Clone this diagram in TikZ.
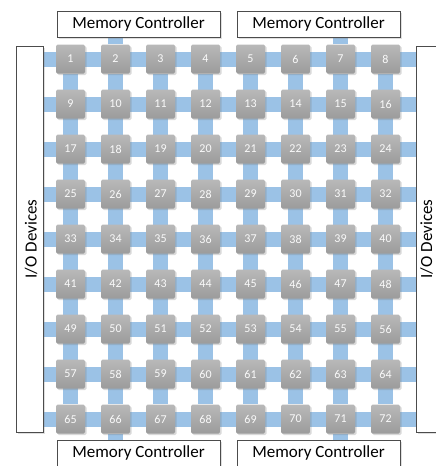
\documentclass[tikz,border=0pt]{standalone}
\usepackage{fontspec}
\setmainfont{Carlito}
\usetikzlibrary{shadows,backgrounds}

\definecolor{linkblue}{RGB}{155,194,230}
\tikzset{
  router/.style={rectangle, rounded corners=1.5pt, minimum size=29pt, inner sep=0pt,
    top color=gray!55, bottom color=gray!78, text=white!96!gray,
    font=\fontsize{12}{14}\selectfont,
    drop shadow={shadow xshift=1.5pt, shadow yshift=-1.5pt, opacity=0.3}},
  ctrlbox/.style={rectangle, draw=black!70, fill=white, line width=0.8pt, inner sep=0pt,
    font=\fontsize{17}{20}\selectfont,
    drop shadow={shadow xshift=2pt, shadow yshift=-2pt, opacity=0.25}},
  ctrllabel/.style={font=\fontsize{17}{20}\selectfont, rotate=90, inner sep=0pt},
  link/.style={line width=15pt, draw=linkblue}
}

\begin{document}
\begin{tikzpicture}[x=1pt, y=-1pt]
  \useasboundingbox (0,0) rectangle (436,466);

  % memory controllers
  \node[ctrlbox, minimum width=163pt, minimum height=26pt] (mcTL) at (138.5,24) {Memory Controller};
  \node[ctrlbox, minimum width=163pt, minimum height=26pt] (mcTR) at (318.5,24) {Memory Controller};
  \node[ctrlbox, minimum width=163pt, minimum height=26pt] (mcBL) at (138.5,453) {Memory Controller};
  \node[ctrlbox, minimum width=163pt, minimum height=26pt] (mcBR) at (318.5,453) {Memory Controller};

  % I/O devices
  \node[ctrlbox, minimum width=27pt, minimum height=386pt] (ioL) at (29.5,239) {};
  \node[ctrlbox, minimum width=32pt, minimum height=386pt] (ioR) at (432,239) {};
  \node[ctrllabel] (ioLtext) at (31,239) {I/O Devices};
  \node[ctrllabel] (ioRtext) at (426.5,239) {I/O Devices};

  % routers
  \foreach \r in {0,...,8}
    \foreach \c in {1,...,8} {
      \pgfmathtruncatemacro{\k}{8*\r+\c}
      \node[router] (n\k) at ({25.5+45*\c},{59+45*\r}) {\k};
    }

  % links
  \begin{scope}[on background layer]
    \foreach \r in {0,...,8} {
      \pgfmathtruncatemacro{\k}{8*\r+1}
      \draw[link] (ioL.east |- n\k) -- (ioR.west |- n\k);
    }
    \foreach \c in {1,...,8} {
      \pgfmathtruncatemacro{\k}{64+\c}
      \draw[link] (n\c) -- (n\k);
    }
    \draw[link] (n2) -- (mcTL.south -| n2);
    \draw[link] (n7) -- (mcTR.south -| n7);
    \draw[link] (n66) -- (mcBL.north -| n66);
    \draw[link] (n71) -- (mcBR.north -| n71);
  \end{scope}
\end{tikzpicture}
\end{document}
